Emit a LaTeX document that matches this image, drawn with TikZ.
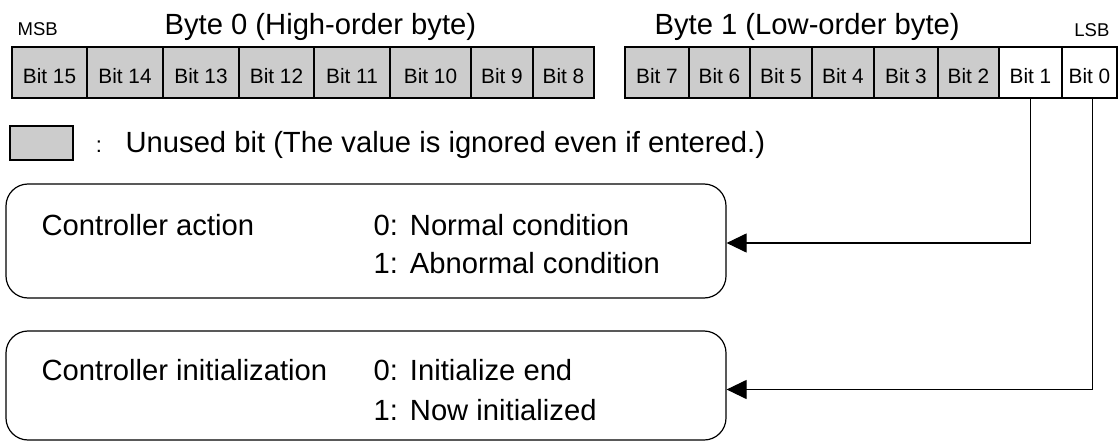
\documentclass[tikz,border=0pt]{standalone}
\usepackage{fontspec}
\setmainfont{Liberation Sans}
\usetikzlibrary{arrows.meta}
\definecolor{unusedgray}{RGB}{204,204,204}

\begin{document}
\begin{tikzpicture}[x=1pt,y=-1pt,>={Triangle[length=20pt,width=19pt]},line width=1.2pt]
\tikzset{bit/.style = {shape=rectangle, draw, minimum height=51pt, inner sep=0pt, text height=22pt, text depth=0pt, font=\fontsize{20.8}{20.8}\selectfont},
unused/.style = {bit, fill=unusedgray},
valuebox/.style = {shape=rectangle, draw, rounded corners=22pt, minimum width=720pt},
big/.style = {inner sep=0pt, font=\fontsize{29.2}{29.2}\selectfont},
small/.style = {inner sep=0pt, font=\fontsize{18.5}{18.5}\selectfont}}

\useasboundingbox (0,0) rectangle (1119,441);

%headings
\node[small, anchor=base west] (msb) at (17,36) {MSB};
\node[big, anchor=base west] (hibyte) at (164,35) {Byte 0 (High-order byte)};
\node[big, anchor=base west] (lobyte) at (654,35) {Byte 1 (Low-order byte)};
\node[small, anchor=base east] (lsb) at (1110,37) {LSB};

%byte 0
\node[unused, minimum width=75pt] (b15) at (49.5,72.5) {Bit 15};
\node[unused, minimum width=76pt] (b14) at (125,72.5) {Bit 14};
\node[unused, minimum width=76pt] (b13) at (201,72.5) {Bit 13};
\node[unused, minimum width=75pt] (b12) at (276.5,72.5) {Bit 12};
\node[unused, minimum width=76pt] (b11) at (352,72.5) {Bit 11};
\node[unused, minimum width=81pt] (b10) at (430.5,72.5) {Bit 10};
\node[unused, minimum width=62pt] (b9) at (502,72.5) {Bit 9};
\node[unused, minimum width=61pt] (b8) at (563.5,72.5) {Bit 8};

%byte 1
\node[unused, minimum width=64pt] (b7) at (657,72.5) {Bit 7};
\node[unused, minimum width=61pt] (b6) at (719.5,72.5) {Bit 6};
\node[unused, minimum width=62pt] (b5) at (781,72.5) {Bit 5};
\node[unused, minimum width=62pt] (b4) at (843,72.5) {Bit 4};
\node[unused, minimum width=64pt] (b3) at (906,72.5) {Bit 3};
\node[unused, minimum width=61pt] (b2) at (968.5,72.5) {Bit 2};
\node[bit, minimum width=63pt] (b1) at (1030.5,72.5) {Bit 1};
\node[bit, minimum width=55pt] (b0) at (1089.5,72.5) {Bit 0};

%legend
\node[unused, minimum width=63pt, minimum height=34pt] (key) at (41.5,143) {};
\node[inner sep=0pt, font=\fontsize{22}{22}\selectfont, anchor=base] (colon) at (99,153) {:};
\node[big, anchor=base west] (keytext) at (125,153) {Unused bit (The value is ignored even if entered.)};

%value boxes
\node[valuebox, minimum height=114pt] (act) at (366,241) {};
\node[big, anchor=base west] (actname) at (41,235) {Controller action};
\node[big, anchor=base west] (act0) at (373,235) {0:\hspace{12pt}Normal condition};
\node[big, anchor=base west] (act1) at (373,273) {1:\hspace{12pt}Abnormal condition};

\node[valuebox, minimum height=109pt] (init) at (366,385.5) {};
\node[big, anchor=base west] (initname) at (41,380) {Controller initialization};
\node[big, anchor=base west] (init0) at (373,380) {0:\hspace{12pt}Initialize end};
\node[big, anchor=base west] (init1) at (373,420) {1:\hspace{12pt}Now initialized};

%connections
\draw[->] (b1.south) |- ([yshift=-2pt]act.east);
\draw[->] ([xshift=3pt]b0.south) |- ([yshift=-4pt]init.east);

\end{tikzpicture}
\end{document}
